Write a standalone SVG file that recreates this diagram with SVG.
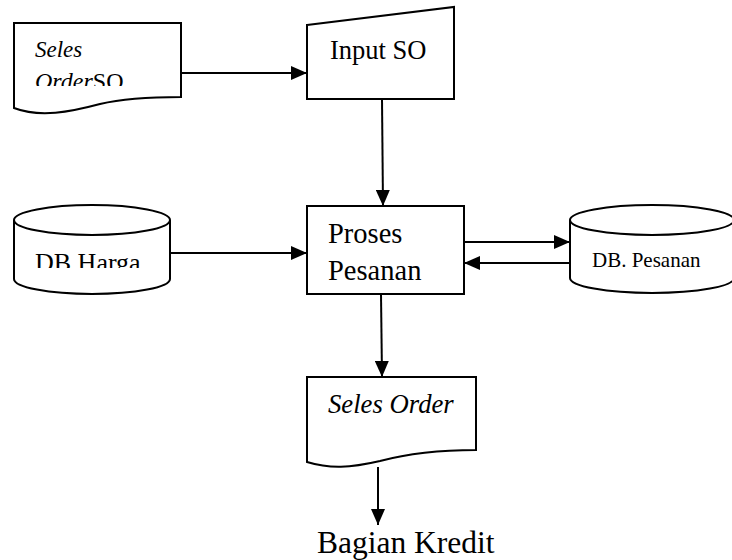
<svg xmlns="http://www.w3.org/2000/svg" width="732" height="560" viewBox="0 0 732 560">
  <style>
    .shape { fill: #ffffff; stroke: #000000; stroke-width: 2; }
    .line { fill: none; stroke: #000000; stroke-width: 2; }
    .txt { font-family: "Liberation Serif", "Times New Roman", serif; fill: #000000; }
    .it { font-style: italic; }
  </style>
  <defs>
    <marker id="arrow" viewBox="0 0 16 14" refX="16" refY="7" markerWidth="16" markerHeight="14" markerUnits="userSpaceOnUse" orient="auto">
      <path d="M0,0 L16,7 L0,14 Z" fill="#000000"/>
    </marker>
    <clipPath id="clipDoc1"><rect x="15" y="24" width="165" height="62"/></clipPath>
    <clipPath id="clipHarga"><rect x="15" y="236" width="154" height="32"/></clipPath>
  </defs>
  <rect width="732" height="560" fill="#ffffff"/>

  <g id="connectors">
    <line class="line" x1="181" y1="73" x2="307" y2="73" marker-end="url(#arrow)"/>
    <line class="line" x1="382" y1="99" x2="383" y2="206" marker-end="url(#arrow)"/>
    <line class="line" x1="170" y1="253" x2="307" y2="253" marker-end="url(#arrow)"/>
    <line class="line" x1="464" y1="242" x2="570" y2="242" marker-end="url(#arrow)"/>
    <line class="line" x1="570" y1="263" x2="464" y2="263" marker-end="url(#arrow)"/>
    <line class="line" x1="381" y1="294" x2="382" y2="377" marker-end="url(#arrow)"/>
    <line class="line" x1="378" y1="467" x2="378" y2="525" marker-end="url(#arrow)"/>
  </g>

  <g id="doc-seles-order-so">
    <path class="shape" d="M14,23 H181 V97 C150,97 125,98 100,104 C70,112 40,118 14,108 Z"/>
    <g clip-path="url(#clipDoc1)">
      <text class="txt it" x="35" y="57" font-size="23">Seles</text>
      <text class="txt" x="35" y="89" font-size="24"><tspan class="it">Order</tspan>SO</text>
    </g>
  </g>

  <g id="input-so">
    <polygon class="shape" points="307,25 454,7 454,99 307,99"/>
    <text class="txt" x="330" y="59" font-size="26.5">Input SO</text>
  </g>

  <g id="db-harga">
    <path class="shape" d="M14,220 V279 A78,15 0 0 0 170,279 V220"/>
    <ellipse class="shape" cx="92" cy="220" rx="78" ry="15"/>
    <g clip-path="url(#clipHarga)">
      <text class="txt" x="35" y="271" font-size="26">DB Harga</text>
    </g>
  </g>

  <g id="proses-pesanan">
    <rect class="shape" x="307" y="206" width="157" height="88"/>
    <text class="txt" x="328" y="243" font-size="28.5">Proses</text>
    <text class="txt" x="328" y="280" font-size="28.5">Pesanan</text>
  </g>

  <g id="db-pesanan">
    <path class="shape" d="M570,220 V278 A82,15 0 0 0 734,278 V220"/>
    <ellipse class="shape" cx="652" cy="220" rx="82" ry="15"/>
    <text class="txt" x="592" y="267" font-size="21">DB. Pesanan</text>
  </g>

  <g id="doc-seles-order">
    <path class="shape" d="M307,377 H476 V450 C440,450 410,453 380,461 C350,468 330,469 307,462 Z"/>
    <text class="txt it" x="328" y="413" font-size="26.7">Seles Order</text>
  </g>

  <g id="bagian-kredit">
    <text class="txt" x="317" y="553" font-size="31.5">Bagian Kredit</text>
  </g>
</svg>
